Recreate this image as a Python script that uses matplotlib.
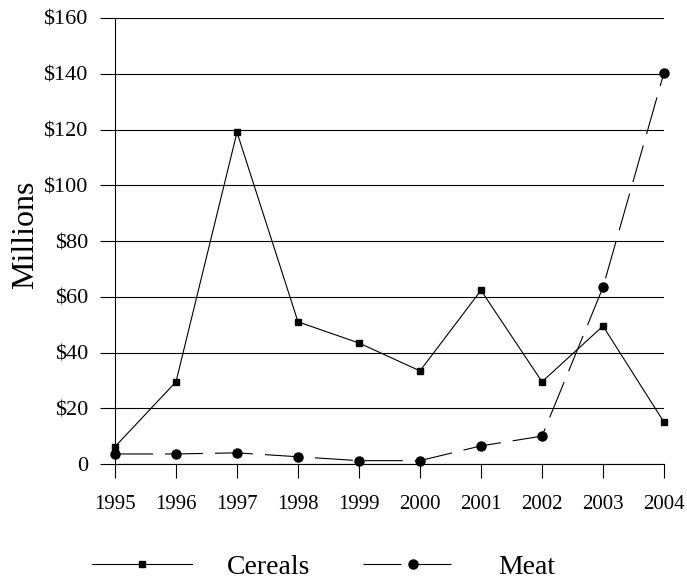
import matplotlib
matplotlib.use("Agg")
import matplotlib.pyplot as plt
from matplotlib.ticker import FuncFormatter

years = [1995, 1996, 1997, 1998, 1999, 2000, 2001, 2002, 2003, 2004]
cereals = [6.2, 29.5, 119, 51, 43.4, 33.4, 62.3, 29.5, 49.5, 15]
meat = [3.6, 3.6, 4, 2.6, 1.2, 1.2, 6.5, 10, 63.4, 140.4]
y_ticks = [0, 20, 40, 60, 80, 100, 120, 140, 160]

plt.rcParams['font.family'] = ['Liberation Serif', 'DejaVu Serif']
plt.rcParams['lines.scale_dashes'] = False

fig = plt.figure(figsize=(6.87, 5.79), dpi=100)
ax = fig.add_axes([115/687, 1-464/579, (664-115)/687, (464-18)/579])

ax.plot(years, cereals, color='black', lw=0.8, marker='s', ms=5, label='Cereals',
        clip_on=False, zorder=3)
ax.plot(years, meat, color='black', lw=0.8, marker='o', ms=6.5,
        dashes=(27.4, 8.6), label='Meat', clip_on=False, zorder=3)

ax.set_xlim(1995, 2004)
ax.set_ylim(0, 160)
ax.set_xticks(years)
ax.set_yticks(y_ticks)
ax.yaxis.set_major_formatter(FuncFormatter(lambda v, p: '0' if v == 0 else f'${int(v)}'))
ax.grid(axis='y', color='black', lw=0.8)
ax.set_axisbelow(True)
for s in ['top', 'right']:
    ax.spines[s].set_visible(False)
ax.spines['left'].set_linewidth(0.8)
ax.spines['bottom'].set_linewidth(0.8)
ax.tick_params(axis='y', length=11, width=0.8, labelsize=16, pad=8.5)
ax.tick_params(axis='x', length=10, width=0.8, labelsize=15, pad=12)
ax.set_ylabel('Millions', fontsize=23)
ax.yaxis.set_label_coords(-0.137, 0.513)

h, l = ax.get_legend_handles_labels()
fig.legend(h, l, loc='center', bbox_to_anchor=(0.471, 1-567/579), ncol=2,
           frameon=False, fontsize=20, handlelength=3.6, columnspacing=1.9,
           handletextpad=1.25, borderpad=0, borderaxespad=0)

fig.savefig('out.png', dpi=100)
